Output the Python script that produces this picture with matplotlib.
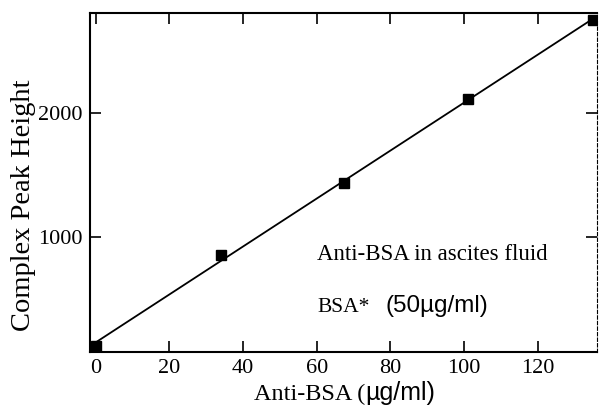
import numpy as np
import matplotlib.pyplot as plt

# readings
anti_bsa = [0, 34, 67.5, 101, 135]
peak_height = [120, 855, 1430, 2110, 2750]
x_ticks = [0, 20, 40, 60, 80, 100, 120]
y_ticks = [1000, 2000]

serif = 'Liberation Serif'
sans = 'Liberation Sans'

fig = plt.figure(figsize=(5.99, 4.07), dpi=100)
ax = fig.add_axes([0.150, 0.135, 0.847, 0.833])

x = np.array(anti_bsa)
m, b = np.polyfit(x, peak_height, 1)
xl = np.array([0, 135])
ax.plot(xl, m * xl + b, '-', color='black', lw=1.3)
ax.plot(x, peak_height, 's', color='black', ms=7.5)

ax.set_xlim(-1.6, 136.2)
ax.set_ylim(70, 2805)
ax.set_xticks(x_ticks)
ax.set_yticks(y_ticks)
ax.tick_params(direction='in', length=8, width=1.2, top=True, right=True,
               labelsize=16, pad=5)
for lab in ax.get_xticklabels() + ax.get_yticklabels():
    lab.set_fontfamily(serif)
for s in ['left', 'bottom', 'top']:
    ax.spines[s].set_linewidth(1.5)
ax.spines['right'].set_linestyle((0, (3, 2)))
ax.spines['right'].set_linewidth(0.8)

ax.set_ylabel('Complex Peak Height', fontsize=20.5, family=serif)
ax.yaxis.set_label_coords(-0.106, 0.434)

# x label: serif part + sans part
fig.text(0.61, 0.005, 'Anti-BSA (', fontsize=17.5, family=serif,
         ha='right', va='bottom')
fig.text(0.61, 0.005, 'µg/ml)', fontsize=18, family=sans,
         ha='left', va='bottom')

ax.text(0.448, 0.271, 'Anti-BSA in ascites fluid', transform=ax.transAxes,
        fontsize=16.5, family=serif)
ax.text(0.449, 0.118, 'BSA*', transform=ax.transAxes,
        fontsize=15.5, family=serif)
ax.text(0.582, 0.118, '(50µg/ml)', transform=ax.transAxes,
        fontsize=17.5, family=sans)

fig.savefig('out.png', dpi=100)
